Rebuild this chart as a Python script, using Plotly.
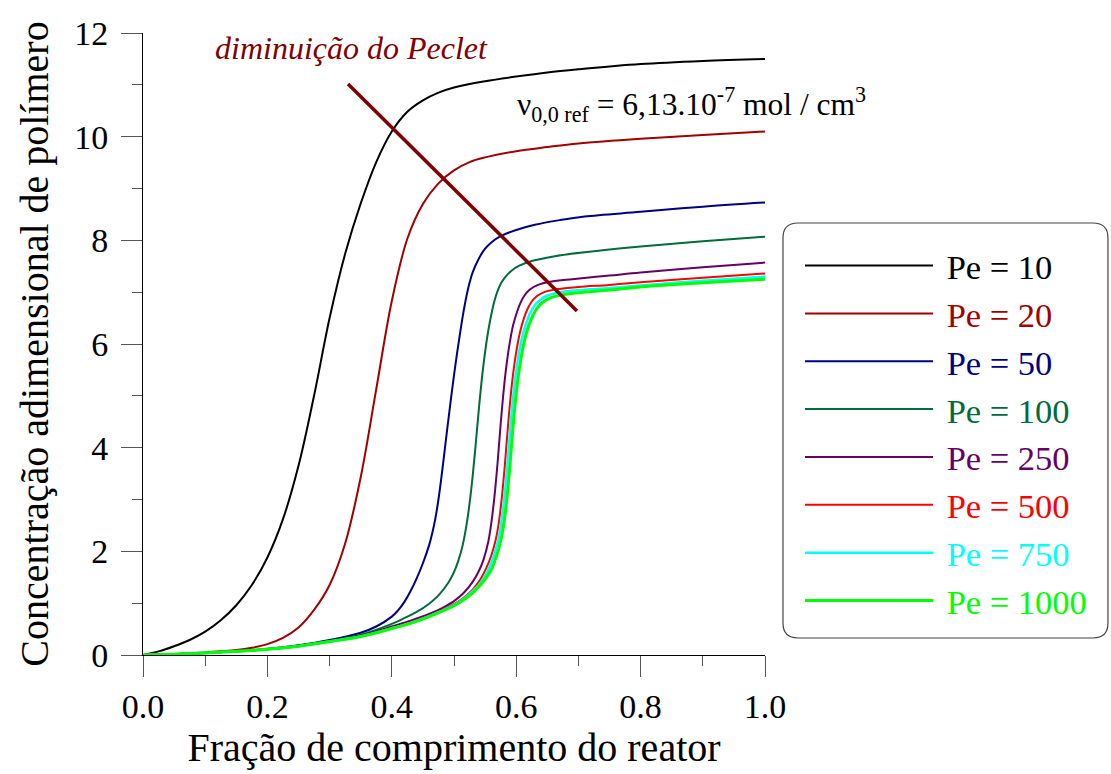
import plotly.graph_objects as go

# ---------------- data ----------------
pe_labels = ["Pe = 10", "Pe = 20", "Pe = 50", "Pe = 100", "Pe = 250", "Pe = 500", "Pe = 750", "Pe = 1000"]
colors = ["#000000", "#A00000", "#000080", "#006B3C", "#660066", "#FF0000", "#00FFFF", "#00FF00"]

x_pe10 = [0, 0.025, 0.05, 0.075, 0.1, 0.125, 0.15, 0.175, 0.2, 0.225, 0.25, 0.275, 0.3, 0.325, 0.35, 0.375,
          0.4, 0.425, 0.45, 0.475, 0.5, 0.55, 0.6, 0.65, 0.7, 0.8, 0.9, 1.0]
y_pe10 = [0, 0.07, 0.17, 0.29, 0.45, 0.67, 0.96, 1.35, 1.88, 2.62, 3.65, 5.0, 6.5, 7.74, 8.71, 9.51,
          10.1, 10.48, 10.7, 10.85, 10.95, 11.07, 11.16, 11.24, 11.3, 11.4, 11.46, 11.5]

x_pe20 = [0, 0.05, 0.1, 0.125, 0.15, 0.175, 0.2, 0.225, 0.25, 0.275, 0.3, 0.325, 0.35, 0.375, 0.4, 0.425,
          0.45, 0.475, 0.5, 0.525, 0.55, 0.6, 0.65, 0.7, 0.8, 0.9, 1.0]
y_pe20 = [0, 0.02, 0.05, 0.07, 0.095, 0.14, 0.21, 0.33, 0.53, 0.87, 1.35, 2.15, 3.43, 5.13, 6.83, 8.03,
          8.7, 9.1, 9.35, 9.51, 9.6, 9.72, 9.8, 9.87, 9.96, 10.03, 10.10]

x_pe50 = [0, 0.05, 0.1, 0.15, 0.2, 0.25, 0.3, 0.35, 0.375, 0.4, 0.41, 0.42, 0.43, 0.44, 0.45, 0.46, 0.465, 0.47, 0.475,
          0.48, 0.485, 0.49, 0.495, 0.5, 0.505, 0.51, 0.515, 0.52, 0.525, 0.53, 0.54, 0.55, 0.56, 0.575, 0.6, 0.63,
          0.67, 0.71, 0.8, 0.9, 1.0]
y_pe50 = [0, 0.015, 0.04, 0.07, 0.12, 0.19, 0.29, 0.43, 0.55, 0.74, 0.86, 1.02, 1.23, 1.48, 1.77, 2.12, 2.35, 2.63, 3.0,
          3.45, 3.95, 4.45, 4.93, 5.4, 5.83, 6.23, 6.6, 6.92, 7.18, 7.38, 7.65, 7.84, 7.96, 8.08, 8.2, 8.3,
          8.39, 8.46, 8.55, 8.65, 8.73]

x_pe100 = [0, 0.05, 0.1, 0.15, 0.2, 0.25, 0.3, 0.35, 0.4, 0.42, 0.44, 0.46, 0.475, 0.49, 0.5, 0.507, 0.514, 0.52,
           0.525, 0.53, 0.535, 0.54, 0.545, 0.55, 0.555, 0.56, 0.565, 0.57, 0.576, 0.583, 0.592, 0.605, 0.625,
           0.66, 0.71, 0.8, 0.9, 1.0]
y_pe100 = [0, 0.015, 0.04, 0.07, 0.11, 0.18, 0.27, 0.39, 0.6, 0.71, 0.83, 0.99, 1.15, 1.38, 1.6, 1.82, 2.12, 2.5,
           2.92, 3.45, 4.08, 4.75, 5.35, 5.85, 6.25, 6.57, 6.83, 7.02, 7.18, 7.3, 7.41, 7.51, 7.6,
           7.69, 7.77, 7.88, 7.98, 8.07]

x_pe250 = [0, 0.05, 0.1, 0.15, 0.2, 0.25, 0.3, 0.35, 0.4, 0.43, 0.46, 0.48, 0.5, 0.515, 0.53, 0.54, 0.548, 0.555,
           0.56, 0.565, 0.57, 0.575, 0.58, 0.585, 0.59, 0.595, 0.6, 0.606, 0.613, 0.622, 0.635, 0.655, 0.69,
           0.75, 0.8, 0.9, 1.0]
y_pe250 = [0, 0.015, 0.04, 0.07, 0.11, 0.17, 0.26, 0.37, 0.55, 0.66, 0.79, 0.9, 1.04, 1.19, 1.41, 1.62, 1.86, 2.18,
           2.55, 3.05, 3.7, 4.45, 5.12, 5.65, 6.05, 6.36, 6.57, 6.77, 6.93, 7.05, 7.14, 7.2, 7.25,
           7.32, 7.38, 7.48, 7.57]

x_pe500 = [0, 0.05, 0.1, 0.15, 0.2, 0.25, 0.3, 0.35, 0.4, 0.43, 0.46, 0.48, 0.5, 0.515, 0.53, 0.542, 0.552, 0.56,
           0.567, 0.572, 0.577, 0.582, 0.587, 0.592, 0.597, 0.602, 0.607, 0.612, 0.618, 0.625, 0.634, 0.647,
           0.667, 0.7, 0.75, 0.8, 0.9, 1.0]
y_pe500 = [0, 0.015, 0.04, 0.07, 0.11, 0.17, 0.26, 0.36, 0.52, 0.63, 0.76, 0.86, 0.98, 1.1, 1.26, 1.45, 1.68, 1.92,
           2.22, 2.55, 3.05, 3.7, 4.45, 5.1, 5.6, 5.98, 6.27, 6.48, 6.67, 6.82, 6.93, 7.01,
           7.06, 7.1, 7.14, 7.19, 7.28, 7.36]

x_pe750 = [0, 0.05, 0.1, 0.15, 0.2, 0.25, 0.3, 0.35, 0.4, 0.43, 0.46, 0.48, 0.5, 0.515, 0.53, 0.545, 0.556, 0.564,
           0.571, 0.576, 0.581, 0.586, 0.591, 0.596, 0.601, 0.606, 0.611, 0.616, 0.622, 0.629, 0.638, 0.651,
           0.671, 0.7, 0.75, 0.8, 0.9, 1.0]
y_pe750 = [0, 0.015, 0.04, 0.07, 0.11, 0.17, 0.26, 0.357, 0.515, 0.62, 0.75, 0.85, 0.965, 1.08, 1.23, 1.43, 1.67, 1.91,
           2.21, 2.54, 3.04, 3.69, 4.44, 5.08, 5.56, 5.93, 6.2, 6.4, 6.59, 6.74, 6.85, 6.94,
           7.0, 7.04, 7.08, 7.13, 7.22, 7.30]

x_pe1000 = [0, 0.05, 0.1, 0.15, 0.2, 0.25, 0.3, 0.35, 0.4, 0.43, 0.46, 0.48, 0.5, 0.515, 0.53, 0.545, 0.56, 0.568,
            0.575, 0.58, 0.585, 0.59, 0.595, 0.6, 0.605, 0.61, 0.615, 0.62, 0.626, 0.633, 0.642, 0.655,
            0.675, 0.7, 0.75, 0.8, 0.9, 1.0]
y_pe1000 = [0, 0.015, 0.04, 0.07, 0.11, 0.17, 0.26, 0.355, 0.51, 0.61, 0.74, 0.84, 0.95, 1.06, 1.2, 1.39, 1.65, 1.9,
            2.2, 2.53, 3.02, 3.67, 4.42, 5.05, 5.52, 5.88, 6.15, 6.35, 6.53, 6.68, 6.8, 6.89,
            6.95, 6.99, 7.04, 7.10, 7.18, 7.25]

xs = [x_pe10, x_pe20, x_pe50, x_pe100, x_pe250, x_pe500, x_pe750, x_pe1000]
ys = [y_pe10, y_pe20, y_pe50, y_pe100, y_pe250, y_pe500, y_pe750, y_pe1000]
widths = [2, 2, 2, 2, 2, 2, 2.5, 3]

x_ticks = [0, 0.2, 0.4, 0.6, 0.8, 1.0]
y_ticks = [0, 2, 4, 6, 8, 10, 12]

FONT = '"Liberation Serif", "Times New Roman", Times, serif'

fig = go.Figure()
for lab, col, x, y, w in zip(pe_labels, colors, xs, ys, widths):
    fig.add_trace(go.Scatter(
        x=x, y=y, mode="lines", line=dict(color=col, width=w, shape="spline", smoothing=1.0),
        name=f"&nbsp;<span style='color:{col}'>{lab}</span>",
    ))

def axis_common():
    return dict(
        showline=True, linecolor="#000000", linewidth=1,
        ticks="outside", ticklen=21, tickwidth=1, tickcolor="#555555",
        showgrid=False, zeroline=False, mirror=False,
        tickfont=dict(family=FONT, size=34, color="#000000"),
    )

fig.update_layout(
    width=1111, height=774,
    margin=dict(l=143, r=346, t=33, b=119, autoexpand=False),
    plot_bgcolor="white", paper_bgcolor="white",
    font=dict(family=FONT, color="#000000", size=34),
    xaxis=dict(
        **axis_common(), range=[0, 1], tickvals=x_ticks, tickformat=".1f",
        minor=dict(ticks="outside", ticklen=10, tickwidth=1, tickcolor="#555555", dtick=0.1, tick0=0, showgrid=False),
        title=dict(text="Fração de comprimento do reator", font=dict(family=FONT, size=40), standoff=8),
    ),
    yaxis=dict(
        **axis_common(), range=[0, 12], tickvals=y_ticks,
        minor=dict(ticks="outside", ticklen=10, tickwidth=1, tickcolor="#555555", dtick=1, tick0=0, showgrid=False),
        title=dict(text="Concentração adimensional de polímero", font=dict(family=FONT, size=40), standoff=13),
        ticklabelstandoff=6,
    ),
    legend=dict(
        x=1.0563, y=0.6726, xanchor="left", yanchor="top",
        bgcolor="rgba(0,0,0,0)", borderwidth=0,
        font=dict(family=FONT, size=34.5, color="#000000"),
        itemwidth=128, tracegroupgap=0,
    ),
    showlegend=True,
)

# rounded legend frame
x0, x1, y0, y1, r = 1.0289, 1.5514, 0.0273, 0.6945, 0.024
path = (f"M{x0+r},{y1} L{x1-r},{y1} Q{x1},{y1} {x1},{y1-r} L{x1},{y0+r} Q{x1},{y0} {x1-r},{y0} "
        f"L{x0+r},{y0} Q{x0},{y0} {x0},{y0+r} L{x0},{y1-r} Q{x0},{y1} {x0+r},{y1} Z")
fig.add_shape(type="path", path=path, xref="paper", yref="paper",
              line=dict(color="#444444", width=1.2), fillcolor="rgba(0,0,0,0)", layer="above")

# "decreasing Peclet" line
fig.add_shape(type="line", x0=0.3296, y0=11.016, x1=0.6977, y1=6.637, xref="x", yref="y",
              line=dict(color="#800000", width=3.5), layer="above")

fig.add_annotation(x=0.336, y=11.71, xref="x", yref="y", showarrow=False,
                   text="<i>diminuição do Peclet</i>",
                   font=dict(family=FONT, size=32, color="#800000"))
fig.add_annotation(x=0.598, y=10.62, xref="x", yref="y", showarrow=False, xanchor="left",
                   text="ν<sub>0,0 ref</sub> = 6,13.10<sup>-7</sup> mol / cm<sup>3</sup>",
                   font=dict(family=FONT, size=31.5, color="#000000"))

fig.write_html("out.html")
